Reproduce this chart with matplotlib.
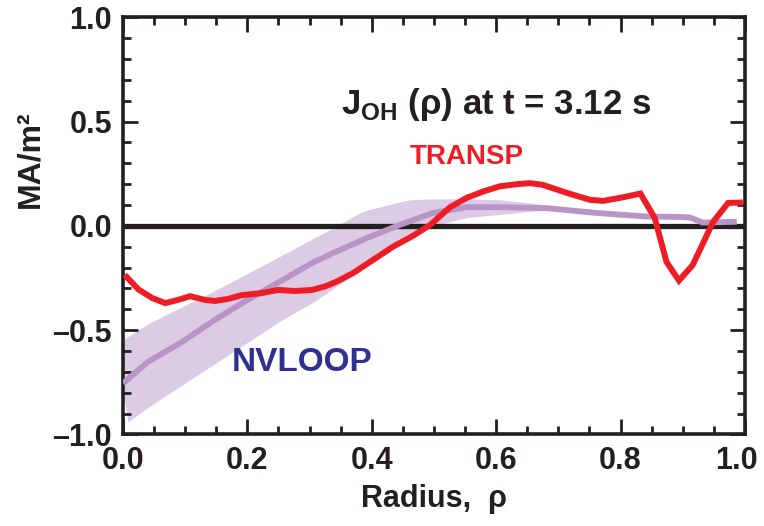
import numpy as np
import matplotlib.pyplot as plt
from matplotlib.ticker import MultipleLocator

# TRANSP profile of J_OH at t = 3.12 s
rho_transp = [0.006, 0.025, 0.047, 0.068, 0.088, 0.108, 0.132, 0.148, 0.169, 0.191,
              0.223, 0.249, 0.277, 0.304, 0.325, 0.345, 0.37, 0.402, 0.434, 0.466,
              0.494, 0.526, 0.553, 0.579, 0.606, 0.633, 0.654, 0.675, 0.714, 0.751,
              0.772, 0.8, 0.832, 0.855, 0.874, 0.894, 0.916, 0.949, 0.973, 0.992]
j_transp = [-0.245, -0.305, -0.346, -0.37, -0.355, -0.337, -0.355, -0.36, -0.35, -0.332,
            -0.322, -0.307, -0.312, -0.307, -0.29, -0.265, -0.226, -0.163, -0.1, -0.048,
            0.005, 0.09, 0.135, 0.165, 0.19, 0.2, 0.205, 0.197, 0.158, 0.125,
            0.12, 0.135, 0.155, 0.038, -0.173, -0.262, -0.188, 0.02, 0.11, 0.112]

# NVLOOP reconstruction (center line)
rho_nv = [0.0, 0.04, 0.095, 0.148, 0.2, 0.255, 0.304, 0.338, 0.392, 0.445,
          0.498, 0.553, 0.606, 0.682, 0.762, 0.842, 0.895, 0.912, 0.932, 0.987]
j_nv = [-0.755, -0.652, -0.556, -0.45, -0.355, -0.262, -0.178, -0.13, -0.058, 0.005,
        0.062, 0.09, 0.09, 0.085, 0.062, 0.045, 0.043, 0.04, 0.016, 0.02]

# NVLOOP uncertainty band
rho_band = [0.0, 0.008, 0.04, 0.148, 0.256, 0.309, 0.338, 0.381, 0.392, 0.445,
            0.461, 0.498, 0.553, 0.606, 0.654, 0.707]
band_hi = [-0.548, -0.53, -0.47, -0.31, -0.14, -0.055, -0.01, 0.063, 0.075, 0.115,
           0.125, 0.13, 0.13, 0.125, 0.11, 0.09]
band_lo = [-0.80, -0.94, -0.87, -0.66, -0.45, -0.36, -0.30, -0.21, -0.19, -0.09,
           -0.06, 0.0, 0.04, 0.055, 0.07, 0.08]

red = "#ee1c25"
purple = "#b895c6"
lavender = "#dccbe4"
blue = "#2e3192"
ink = "#231f20"

plt.rcParams['font.family'] = ['Liberation Sans', 'DejaVu Sans']
plt.rcParams['font.weight'] = 'bold'
plt.rcParams['mathtext.fontset'] = 'custom'
plt.rcParams['mathtext.rm'] = 'Liberation Sans'
plt.rcParams['mathtext.bf'] = 'Liberation Sans:bold'

fig = plt.figure(figsize=(7.64, 5.26), dpi=100)
ax = fig.add_axes([0.161, 0.174, 0.814, 0.793])

ax.fill_between(rho_band, band_lo, band_hi, color=lavender, lw=0, zorder=1)
ax.axhline(0.0, color=ink, lw=3.8, zorder=2)
ax.plot(rho_nv, j_nv, color=purple, lw=4.2, solid_capstyle='butt', zorder=3)
ax.plot(rho_transp, j_transp, color=red, lw=4.3, solid_joinstyle='miter', zorder=4)

ax.set_xlim(0, 1.0)
ax.set_ylim(-1.0, 1.0)
ax.xaxis.set_major_locator(MultipleLocator(0.2))
ax.xaxis.set_minor_locator(MultipleLocator(0.05))
ax.yaxis.set_major_locator(MultipleLocator(0.5))
ax.yaxis.set_minor_locator(MultipleLocator(0.1))
# the 1.0 label is drawn separately, a bit to the left, so it stays inside the figure
ax.xaxis.set_major_formatter(lambda v, p: "" if v > 0.99 else f"{v:.1f}")
ax.yaxis.set_major_formatter(lambda v, p: f"{v:.1f}".replace("-", "\u2013"))
ax.tick_params(which='both', direction='in', top=True, right=True, width=2, colors=ink)
ax.tick_params(which='major', length=11, labelsize=22, pad=8)
ax.tick_params(which='minor', length=6)
for s in ax.spines.values():
    s.set_linewidth(2.6)
    s.set_color(ink)
ax.annotate("1.0", xy=(1.0, 0), xycoords=('data', 'axes fraction'),
            xytext=(-6, -8), textcoords='offset points', ha='center', va='top',
            fontsize=22, fontweight='bold', color=ink, annotation_clip=False)

ax.set_xlabel("Radius,  \u03c1", fontsize=22, fontweight='bold', color=ink, labelpad=6)
ax.set_ylabel("MA/m\u00b2", fontsize=23, fontweight='bold', color=ink)
ax.yaxis.set_label_coords(-0.125, 0.66)

ax.text(0.35, 0.535, r"J$_{\mathrm{OH}}$ (" + "\u03c1" + ") at t = 3.12 s",
        fontsize=25, fontweight='bold', color=ink)
ax.text(0.553, 0.33, "TRANSP", fontsize=20, fontweight='bold', color=red, ha='center', va='center')
ax.text(0.175, -0.655, "NVLOOP", fontsize=24, fontweight='bold', color=blue, va='center')

fig.savefig("out.png", dpi=100)
